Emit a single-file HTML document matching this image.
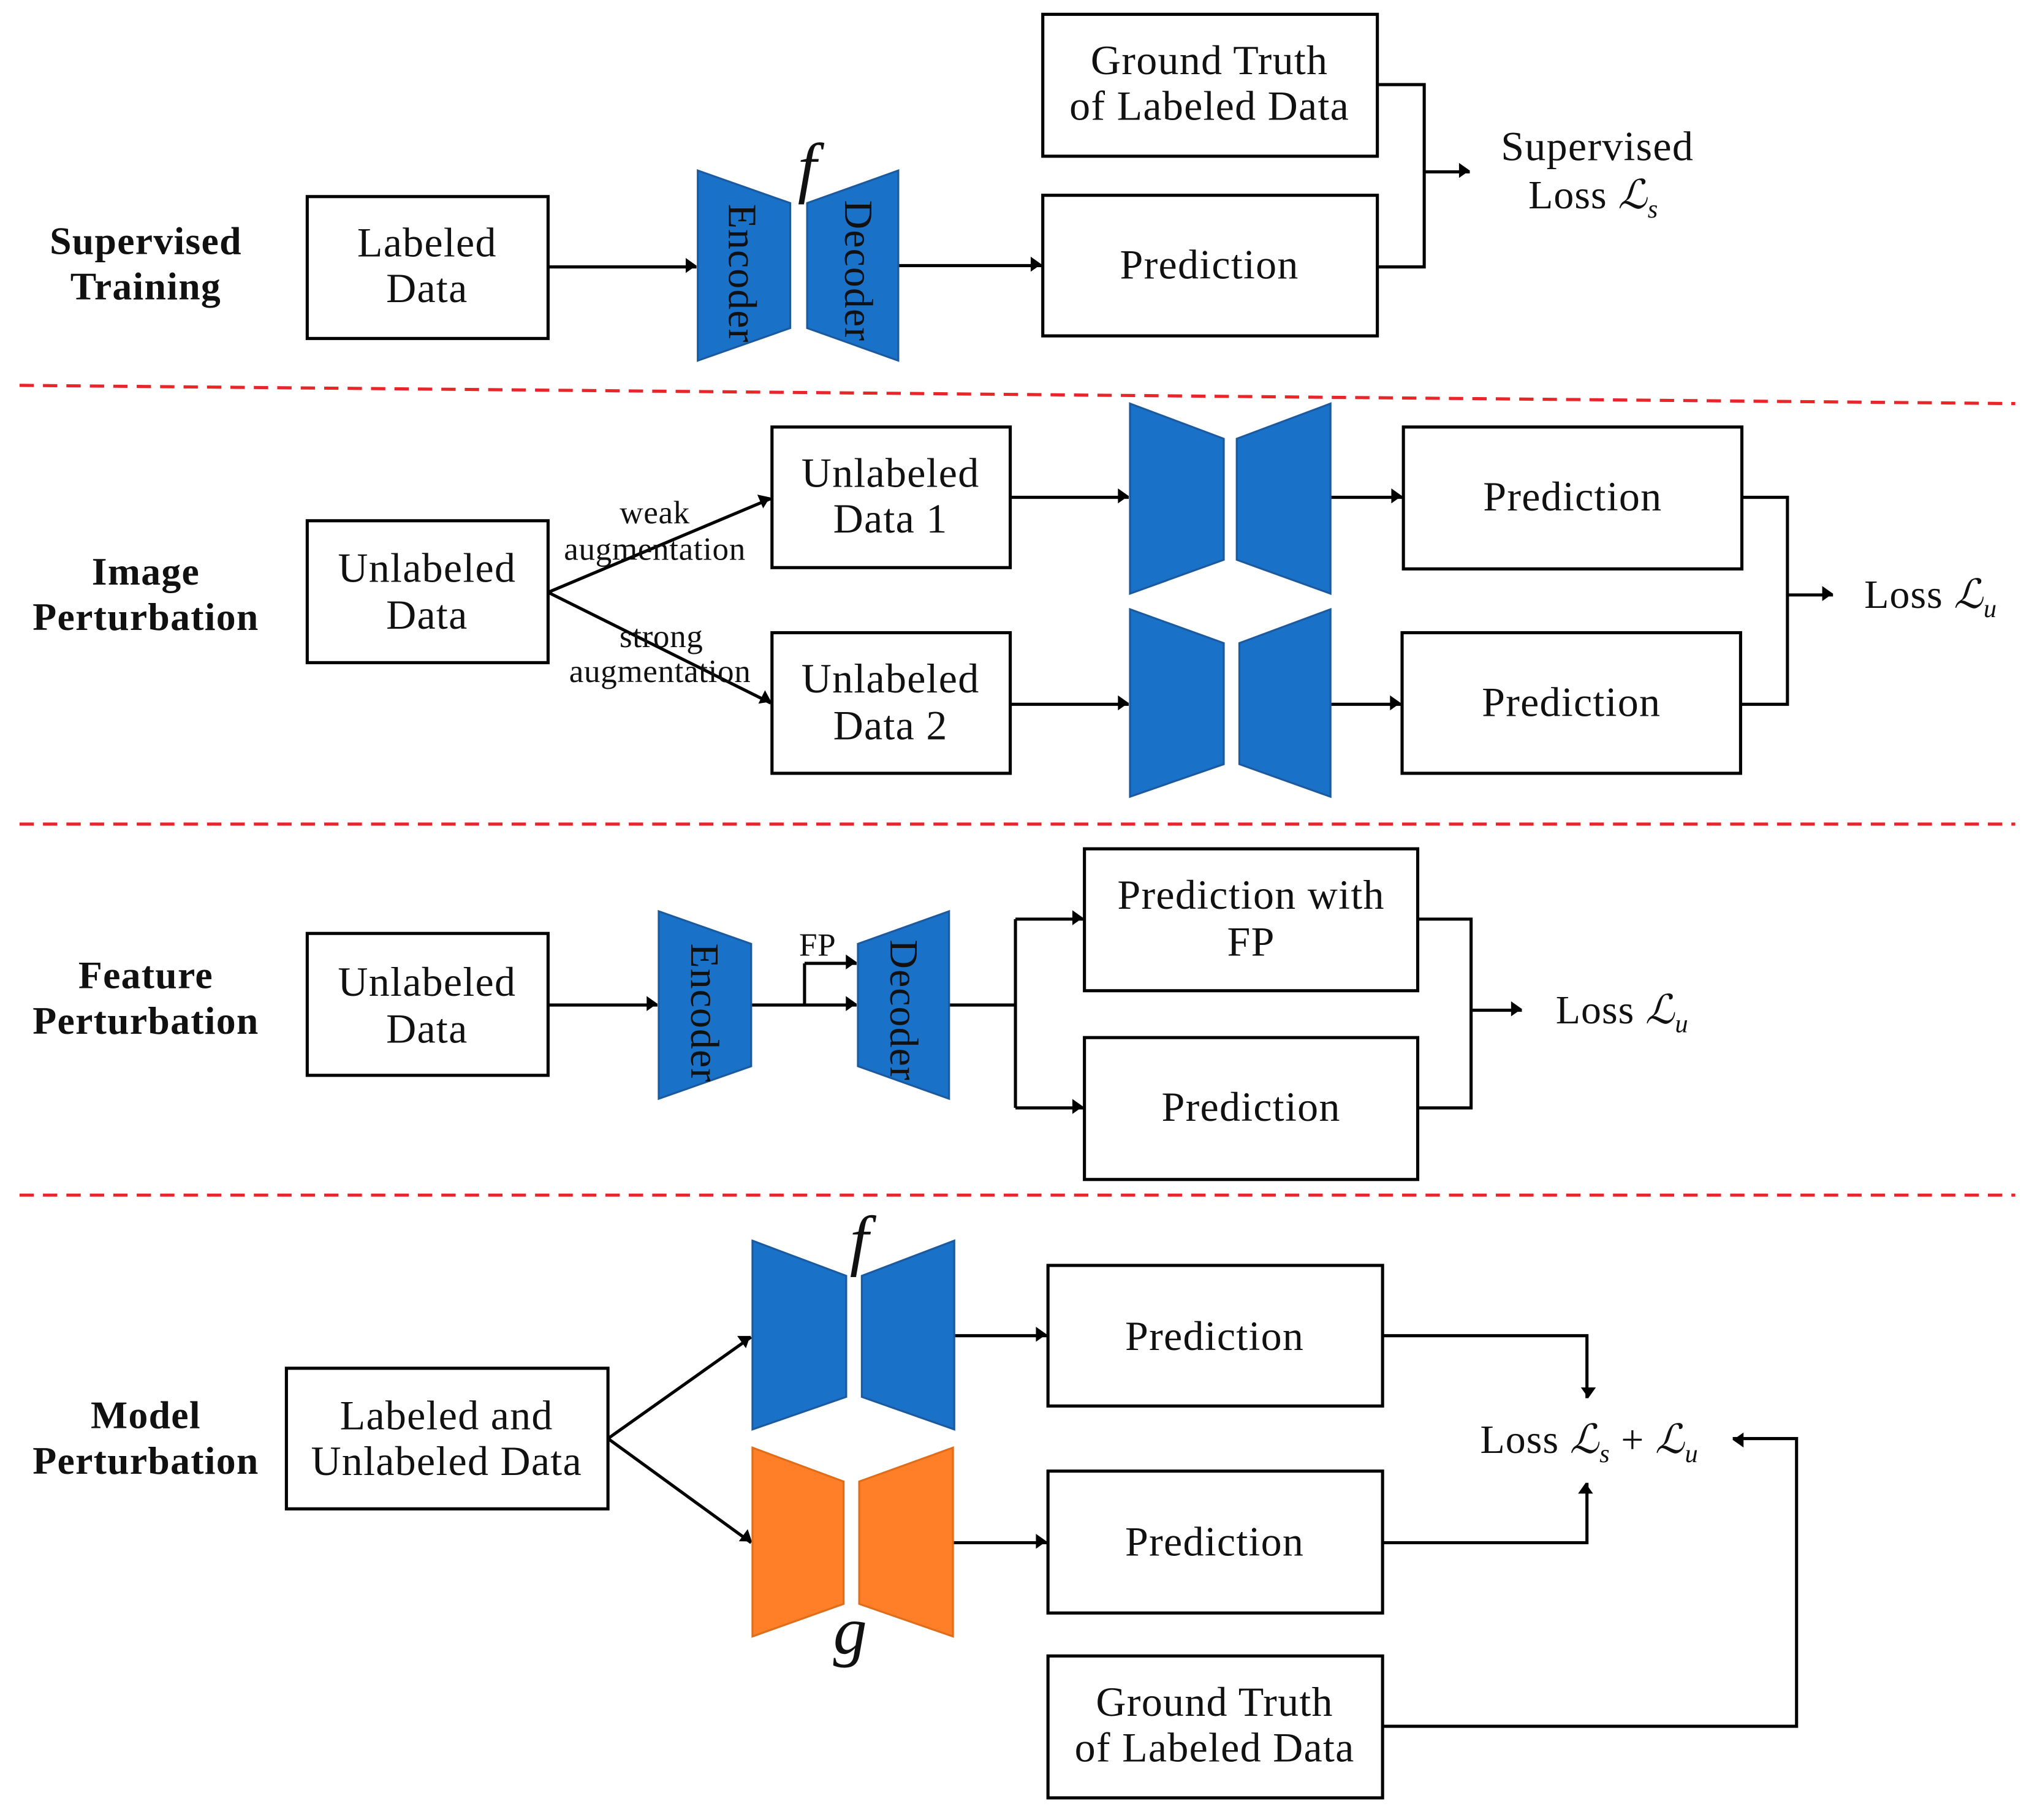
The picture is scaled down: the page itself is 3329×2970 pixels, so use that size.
<!DOCTYPE html>
<html><head><meta charset="utf-8"><style>
html,body{margin:0;padding:0;background:#fff}
svg{display:block}
text{font-family:"Liberation Serif","DejaVu Serif",serif;fill:#111}
</style></head><body>
<svg width="3329" height="2970" viewBox="0 0 1567 1398" preserveAspectRatio="none" xmlns="http://www.w3.org/2000/svg">
<defs>
<marker id="a" viewBox="0 0 10 10" refX="9" refY="5" markerWidth="6" markerHeight="6" orient="auto" markerUnits="userSpaceOnUse" style="overflow:visible">
<path d="M-8,-7 L9,5 L-8,17 z" fill="#000" transform="scale(0.8) translate(2,-1)"/>
</marker>
</defs>
<g fill="none" stroke="#000" stroke-width="2.4">
<rect x="236" y="151" width="185" height="109"/>
<rect x="801" y="11" width="257" height="109"/>
<rect x="801" y="150" width="257" height="108"/>
<polyline points="1058,65 1094,65 1094,205 1058,205"/>
<rect x="236" y="400" width="185" height="109"/>
<rect x="593" y="328" width="183" height="108"/>
<rect x="593" y="486" width="183" height="108"/>
<rect x="1078" y="328" width="260" height="109"/>
<rect x="1077" y="486" width="260" height="108"/>
<polyline points="1338,382 1373,382 1373,541 1337,541"/>
<rect x="236" y="717" width="185" height="109"/>
<rect x="833" y="652" width="256" height="109"/>
<rect x="833" y="797" width="256" height="109"/>
<polyline points="1089,706 1130,706 1130,851 1089,851"/>
<polyline points="729,772 780,772"/>
<polyline points="780,706 780,851"/>
<polyline points="618,772 618,740"/>
<rect x="220" y="1051" width="247" height="108"/>
<rect x="805" y="972" width="257" height="108"/>
<rect x="805" y="1130" width="257" height="109"/>
<rect x="805" y="1272" width="257" height="109"/>
</g>
<g stroke="#000" stroke-width="2.4" fill="none" marker-end="url(#a)">
<line x1="421" y1="205" x2="535" y2="205"/>
<line x1="690" y1="204" x2="800" y2="204"/>
<line x1="1094" y1="132" x2="1129" y2="132"/>
<line x1="421" y1="455" x2="592" y2="383"/>
<line x1="421" y1="455" x2="592" y2="540"/>
<line x1="776" y1="382" x2="867" y2="382"/>
<line x1="776" y1="541" x2="867" y2="541"/>
<line x1="1022" y1="382" x2="1077" y2="382"/>
<line x1="1022" y1="541" x2="1076" y2="541"/>
<line x1="1373" y1="457" x2="1408" y2="457"/>
<line x1="421" y1="772" x2="505" y2="772"/>
<line x1="577" y1="772" x2="658" y2="772"/>
<polyline points="618,740 658,740"/>
<line x1="780" y1="706" x2="832" y2="706"/>
<line x1="780" y1="851" x2="832" y2="851"/>
<line x1="1130" y1="776" x2="1169" y2="776"/>
<line x1="467" y1="1105" x2="577" y2="1027"/>
<line x1="467" y1="1105" x2="577" y2="1185"/>
<line x1="733" y1="1026" x2="804" y2="1026"/>
<line x1="732" y1="1185" x2="804" y2="1185"/>
<polyline points="1062,1026 1219,1026 1219,1074"/>
<polyline points="1062,1185 1219,1185 1219,1139"/>
<polyline points="1062,1326 1380,1326 1380,1105 1331,1105"/>
</g>
<g stroke="#e8262a" stroke-width="2.4" stroke-dasharray="11,7">
<line x1="15" y1="296" x2="1548" y2="310"/>
<line x1="15" y1="633" x2="1548" y2="633"/>
<line x1="15" y1="918" x2="1548" y2="918"/>
</g>
<g fill="#1a72c8" stroke="#1c5aa0" stroke-width="1.5">
<polygon points="536,131 607,156 607,252 536,277"/>
<polygon points="620,156 690,131 690,277 620,252"/>
<polygon points="868,310 940,337 940,430 868,456"/>
<polygon points="950,337 1022,310 1022,456 950,430"/>
<polygon points="868,468 940,494 940,587 868,612"/>
<polygon points="952,494 1022,468 1022,612 952,587"/>
<polygon points="506,700 577,725 577,819 506,844"/>
<polygon points="659,725 729,700 729,844 659,819"/>
<polygon points="578,953 650,980 650,1073 578,1098"/>
<polygon points="662,980 733,953 733,1098 662,1073"/>
</g>
<g fill="#fe7f27" stroke="#e06d1a" stroke-width="1.5">
<polygon points="578,1112 648,1138 648,1232 578,1257"/>
<polygon points="660,1138 732,1112 732,1257 660,1232"/>
</g>
<g font-size="31" letter-spacing="0.5">
<text transform="translate(560,210) rotate(90)" text-anchor="middle">Encoder</text>
<text transform="translate(649,208) rotate(90)" text-anchor="middle">Decoder</text>
<text transform="translate(531,778) rotate(90)" text-anchor="middle">Encoder</text>
<text transform="translate(684,776) rotate(90)" text-anchor="middle">Decoder</text>
</g>
<g font-size="52" font-style="italic">
<text x="620" y="146" text-anchor="middle">f</text>
<text x="660" y="970" text-anchor="middle">f</text>
<text x="653" y="1270" text-anchor="middle">g</text>
</g>
<g font-size="30" font-weight="bold" text-anchor="middle" letter-spacing="0.6">
<text x="112" y="195">Supervised</text><text x="112" y="230">Training</text>
<text x="112" y="449">Image</text><text x="112" y="484">Perturbation</text>
<text x="112" y="759">Feature</text><text x="112" y="794">Perturbation</text>
<text x="112" y="1097">Model</text><text x="112" y="1132">Perturbation</text>
</g>
<g font-size="32" text-anchor="middle" letter-spacing="0.6">
<text x="328" y="197">Labeled</text><text x="328" y="232">Data</text>
<text x="929" y="57">Ground Truth</text><text x="929" y="92">of Labeled Data</text>
<text x="929" y="214">Prediction</text>
<text x="1227" y="123">Supervised</text>
<text x="328" y="447">Unlabeled</text><text x="328" y="483">Data</text>
<text x="684" y="374">Unlabeled</text><text x="684" y="409">Data 1</text>
<text x="684" y="532">Unlabeled</text><text x="684" y="568">Data 2</text>
<text x="1208" y="392">Prediction</text>
<text x="1207" y="550">Prediction</text>
<text x="328" y="765">Unlabeled</text><text x="328" y="801">Data</text>
<text x="961" y="698">Prediction with</text><text x="961" y="734">FP</text>
<text x="961" y="861">Prediction</text>
<text x="343" y="1098">Labeled and</text><text x="343" y="1133">Unlabeled Data</text>
<text x="933" y="1037">Prediction</text>
<text x="933" y="1195">Prediction</text>
<text x="933" y="1318">Ground Truth</text><text x="933" y="1353">of Labeled Data</text>
</g>
<g font-size="31" letter-spacing="0.5">
<text x="1174" y="160">Loss <tspan font-style="italic">ℒ</tspan><tspan font-size="20" font-style="italic" dy="7">s</tspan></text>
<text x="1432" y="467">Loss <tspan font-style="italic">ℒ</tspan><tspan font-size="20" font-style="italic" dy="7">u</tspan></text>
<text x="1195" y="786">Loss <tspan font-style="italic">ℒ</tspan><tspan font-size="20" font-style="italic" dy="7">u</tspan></text>
<text x="1137" y="1116">Loss <tspan font-style="italic">ℒ</tspan><tspan font-size="20" font-style="italic" dy="7">s</tspan><tspan dy="-7"> + </tspan><tspan font-style="italic">ℒ</tspan><tspan font-size="20" font-style="italic" dy="7">u</tspan></text>
</g>
<g font-size="25" text-anchor="middle" letter-spacing="0.3">
<text x="503" y="402">weak</text><text x="503" y="430">augmentation</text>
<text x="508" y="497">strong</text><text x="507" y="524">augmentation</text>
<text x="628" y="734">FP</text>
</g>
</svg>
</body></html>
